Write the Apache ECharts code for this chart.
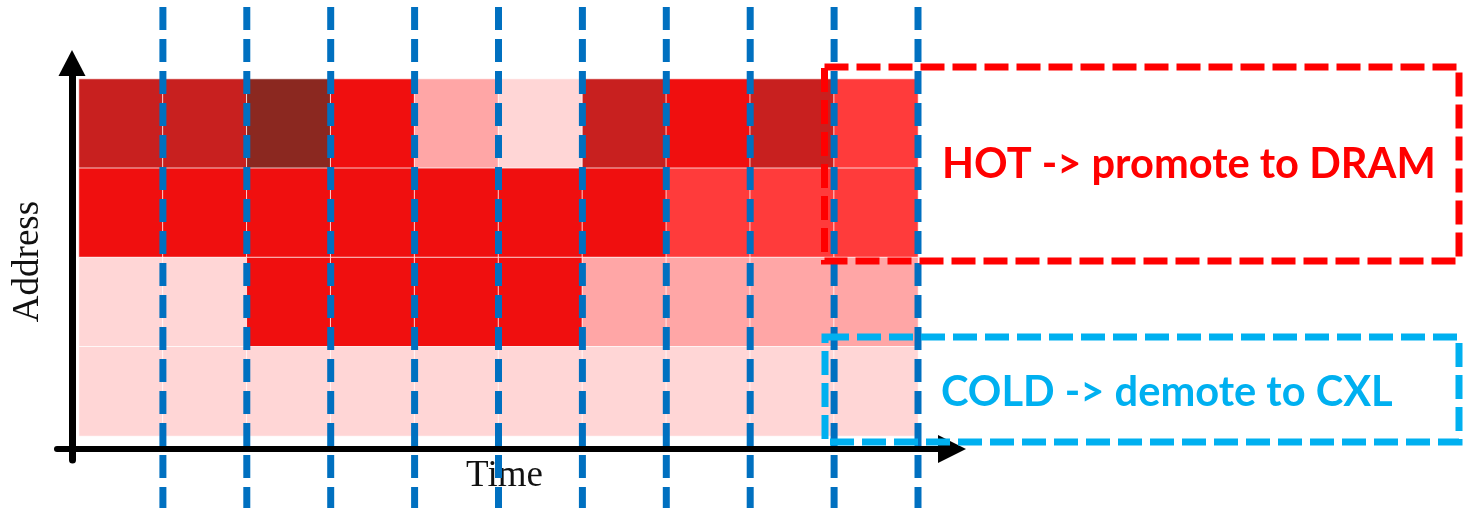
<!DOCTYPE html>
<html>
<head>
<meta charset="utf-8">
<script src="https://cdn.jsdelivr.net/npm/echarts@6/dist/echarts.min.js"></script>
<style>
html,body{margin:0;padding:0;background:#fff;}
#chart{width:1464px;height:510px;}
</style>
</head>
<body>
<div id="chart"></div>
<script>
// ---- data ----
const timeSlots = ['t1','t2','t3','t4','t5','t6','t7','t8','t9','t10'];
const addressRows = ['a0','a1','a2','a3']; // bottom -> top
// access intensity levels (0 = coldest, 5 = hottest), rows listed top -> bottom
const rowTop    = [4,4,5,3,1,0,4,3,4,2];
const rowUpper  = [3,3,3,3,3,3,3,2,2,2];
const rowLower  = [0,0,3,3,3,3,1,1,1,1];
const rowBottom = [0,0,0,0,0,0,0,0,0,0];
const levelColors = ['#FFD6D6','#FFA6A6','#FF3B3B','#F00F0F','#C8201F','#8B2820'];
const timeBoundaries = [1,2,3,4,5,6,7,8,9,10];
const hotLabel = 'HOT -> promote to DRAM';
const coldLabel = 'COLD -> demote to CXL';

// ---- build ----
const rowsTopDown = [rowTop, rowUpper, rowLower, rowBottom];
const heatData = [];
rowsTopDown.forEach((row, r) => {
  const yIdx = addressRows.length - 1 - r;
  row.forEach((v, x) => heatData.push([x, yIdx, v]));
});

const boundarySeries = timeBoundaries.map(b => ({
  type: 'line',
  xAxisIndex: 1, yAxisIndex: 1,
  data: [[b, 1], [b, 0]],
  symbol: 'none',
  silent: true,
  z: 5,
  lineStyle: { color: '#0070C0', width: 7, type: [23, 9] }
}));

const chart = echarts.init(document.getElementById('chart'), null, { renderer: 'canvas' });
chart.setOption({
  animation: false,
  backgroundColor: '#fff',
  grid: [
    { left: 79, right: 546, top: 79, bottom: 74 },   // heatmap
    { left: 79, right: 546, top: 7, bottom: 2 },     // time boundaries overlay
    { left: 57, right: 512, top: 100, bottom: 61 },  // time axis arrow
    { left: 72, right: 1000, top: 63, bottom: 50 }   // address axis arrow
  ],
  xAxis: [
    { gridIndex: 0, type: 'category', data: timeSlots, show: false },
    { gridIndex: 1, type: 'value', min: 0, max: 10, show: false },
    { gridIndex: 2, type: 'value', min: 0, max: 1,
      name: 'Time', nameLocation: 'middle', nameGap: 9,
      nameTextStyle: { fontFamily: 'Liberation Serif', fontSize: 37, color: '#111' },
      axisLine: { show: true, symbol: ['none', 'triangle'], symbolSize: [28, 28],
        lineStyle: { color: '#000', width: 6 } },
      axisTick: { show: false }, axisLabel: { show: false }, splitLine: { show: false } },
    { gridIndex: 3, type: 'value', min: 0, max: 1, show: false }
  ],
  yAxis: [
    { gridIndex: 0, type: 'category', data: addressRows, show: false },
    { gridIndex: 1, type: 'value', min: 0, max: 1, show: false },
    { gridIndex: 2, type: 'value', min: 0, max: 1, show: false },
    { gridIndex: 3, type: 'value', min: 0, max: 1,
      name: 'Address', nameLocation: 'middle', nameGap: 25,
      nameTextStyle: { fontFamily: 'Liberation Serif', fontSize: 37, color: '#111' },
      axisLine: { show: true, symbol: ['none', 'triangle'], symbolSize: [27, 26],
        lineStyle: { color: '#000', width: 7 } },
      axisTick: { show: false }, axisLabel: { show: false }, splitLine: { show: false } }
  ],
  visualMap: {
    type: 'piecewise', show: false, seriesIndex: 0, dimension: 2,
    pieces: levelColors.map((c, i) => ({ value: i, color: c }))
  },
  series: [
    {
      type: 'heatmap',
      xAxisIndex: 0, yAxisIndex: 0,
      data: heatData,
      silent: true,
      itemStyle: { borderColor: 'rgba(255,255,255,0.75)', borderWidth: 1 }
    }
  ].concat(boundarySeries),
  graphic: [
    { type: 'rect', z: 100, silent: true,
      shape: { x: 824.5, y: 67, width: 634.5, height: 194 },
      style: { fill: 'none', stroke: '#FF0000', lineWidth: 7, lineDash: [24, 8] } },
    { type: 'rect', z: 100, silent: true,
      shape: { x: 825, y: 337, width: 634, height: 105 },
      style: { fill: 'none', stroke: '#00B0F0', lineWidth: 7, lineDash: [24, 8] } },
    { type: 'text', z: 101, silent: true, x: 942, y: 165,
      style: { text: hotLabel, fill: '#FF0000', font: 'bold 41.6px Lato', textAlign: 'left', textVerticalAlign: 'middle' } },
    { type: 'text', z: 101, silent: true, x: 941, y: 393,
      style: { text: coldLabel, fill: '#00B0F0', font: 'bold 41.6px Lato', textAlign: 'left', textVerticalAlign: 'middle' } }
  ]
});
</script>
</body>
</html>
